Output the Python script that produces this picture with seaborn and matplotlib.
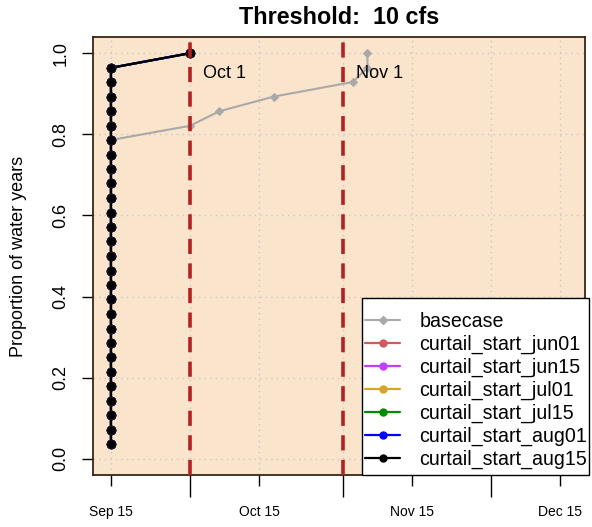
import matplotlib
matplotlib.use("Agg")
import matplotlib.pyplot as plt
import matplotlib.dates as mdates
from matplotlib.lines import Line2D
from matplotlib.patches import Rectangle
import seaborn as sns
import pandas as pd

sns.set_style("white")
plt.rcParams["font.family"] = ["Liberation Sans", "DejaVu Sans"]
plt.rcParams["text.color"] = "black"
plt.rcParams["axes.labelcolor"] = "black"
plt.rcParams["xtick.color"] = "black"
plt.rcParams["ytick.color"] = "black"

YEAR = 2000

# ---- data ----
base_dates = ["09-15", "10-01", "10-07", "10-18", "11-03", "11-06", "11-06"]
base_props = [0.786, 0.821, 0.857, 0.893, 0.929, 0.964, 1.000]

curtail_dates = ["09-15"] * 27 + ["10-01"]
curtail_props = [0.036, 0.071, 0.107, 0.143, 0.179, 0.214, 0.250, 0.286,
                 0.321, 0.357, 0.393, 0.429, 0.464, 0.500, 0.536, 0.571,
                 0.607, 0.643, 0.679, 0.714, 0.750, 0.786, 0.821, 0.857,
                 0.893, 0.929, 0.964, 1.000]

scenarios = ["curtail_start_jun01", "curtail_start_jun15", "curtail_start_jul01",
             "curtail_start_jul15", "curtail_start_aug01", "curtail_start_aug15"]
scenario_colors = ["#CD5C5C", "#BF3EFF", "#DAA520", "#008B00", "#0000FF", "#000000"]

ref_dates = ["10-01", "11-01"]
ref_labels = ["Oct 1", "Nov 1"]

labeled_ticks = ["09-15", "10-15", "11-15", "12-15"]
labeled_tick_text = ["Sep 15", "Oct 15", "Nov 15", "Dec 15"]
month_ticks = ["10-01", "11-01", "12-01"]
y_ticks = [0.0, 0.2, 0.4, 0.6, 0.8, 1.0]


def to_dt(s):
    return pd.to_datetime([f"{YEAR}-{d}" for d in s])


W, H = 592, 527
fig = plt.figure(figsize=(W / 100, H / 100), dpi=100)
ax = fig.add_axes([93 / W, 1 - 475 / H, (585 - 93) / W, (475 - 37) / H])
ax.set_facecolor("#FAE4CC")
ax.set_axisbelow(True)

# basecase
bdf = pd.DataFrame({"date": to_dt(base_dates), "prop": base_props})
sns.lineplot(data=bdf, x="date", y="prop", color="#A9A9A9", lw=1.5,
             marker="D", markersize=4, markeredgecolor="#A9A9A9",
             sort=False, estimator=None, ax=ax, legend=False)

# curtail scenarios (identical curves, black drawn last)
for name, col in zip(scenarios, scenario_colors):
    cdf = pd.DataFrame({"date": to_dt(curtail_dates), "prop": curtail_props})
    sns.lineplot(data=cdf, x="date", y="prop", color=col, lw=1.6,
                 marker="o", markersize=6, markeredgecolor="#10102a",
                 markeredgewidth=0.8, sort=False, estimator=None, ax=ax,
                 legend=False)

# reference lines
for d, lab in zip(to_dt(ref_dates), ref_labels):
    ax.axvline(d, color="#B22222", lw=2.6, dashes=(4.2, 2.6), zorder=4)
    ax.text(d + pd.Timedelta(days=2.6), 0.951, lab, fontsize=13,
            ha="left", va="center", zorder=6)

x0 = pd.Timestamp(f"{YEAR}-09-15")
ax.set_xlim(x0 - pd.Timedelta(days=3.64), x0 + pd.Timedelta(days=96.1))
ax.set_ylim(-0.04, 1.04)

# ticks
ax.xaxis.set_major_locator(matplotlib.ticker.FixedLocator(mdates.date2num(to_dt(month_ticks))))
ax.xaxis.set_major_formatter(matplotlib.ticker.NullFormatter())
ax.xaxis.set_minor_locator(matplotlib.ticker.FixedLocator(mdates.date2num(to_dt(labeled_ticks))))
ax.xaxis.set_minor_formatter(matplotlib.ticker.FixedFormatter(labeled_tick_text))
ax.tick_params(axis="x", which="major", direction="out", length=16, width=1,
               color="black", bottom=True)
ax.tick_params(axis="x", which="minor", direction="out", length=8, width=1,
               color="black", bottom=True, labelsize=10, pad=13.5)
ax.set_yticks(y_ticks)
ax.set_yticklabels([f"{v:.1f}" for v in y_ticks], rotation=90, va="center")
ax.tick_params(axis="y", which="major", direction="out", length=8, width=1,
               color="black", left=True, labelsize=13, pad=9)

ax.grid(axis="x", which="both", color="#C8C8C8", lw=1, linestyle=(0, (1, 3)))
ax.grid(axis="y", which="major", color="#C8C8C8", lw=1, linestyle=(0, (1, 3)))

for sp in ax.spines.values():
    sp.set_color("#3a2412")
    sp.set_linewidth(1.3)

ax.set_xlabel("")
ax.set_ylabel("Proportion of water years", fontsize=13)
ax.yaxis.set_label_coords(-0.135, 0.5)
ax.set_title("Threshold:  10 cfs", fontsize=16.8, fontweight="bold", pad=9)

# legend box (R-style inset, extends slightly past the panel)
box = Rectangle((362 / W, 1 - 475 / H), (589 - 362) / W, (475 - 298) / H,
                transform=fig.transFigure, facecolor="white", edgecolor="black",
                lw=1.0, zorder=9, clip_on=False)
ax.add_artist(box)

handles = [Line2D([], [], color="#A9A9A9", lw=1.5, marker="D", markersize=4)]
for col in scenario_colors:
    handles.append(Line2D([], [], color=col, lw=1.6, marker="o", markersize=5))
leg = ax.legend(handles, ["basecase"] + scenarios, loc="center left",
                bbox_to_anchor=(365 / W, 1 - 390.5 / H),
                bbox_transform=fig.transFigure, borderaxespad=0, borderpad=0,
                fontsize=14.1, frameon=False, handlelength=1.8,
                handletextpad=0.97, labelspacing=0.19)
leg.set_zorder(10)

fig.savefig("out.png", dpi=100)
